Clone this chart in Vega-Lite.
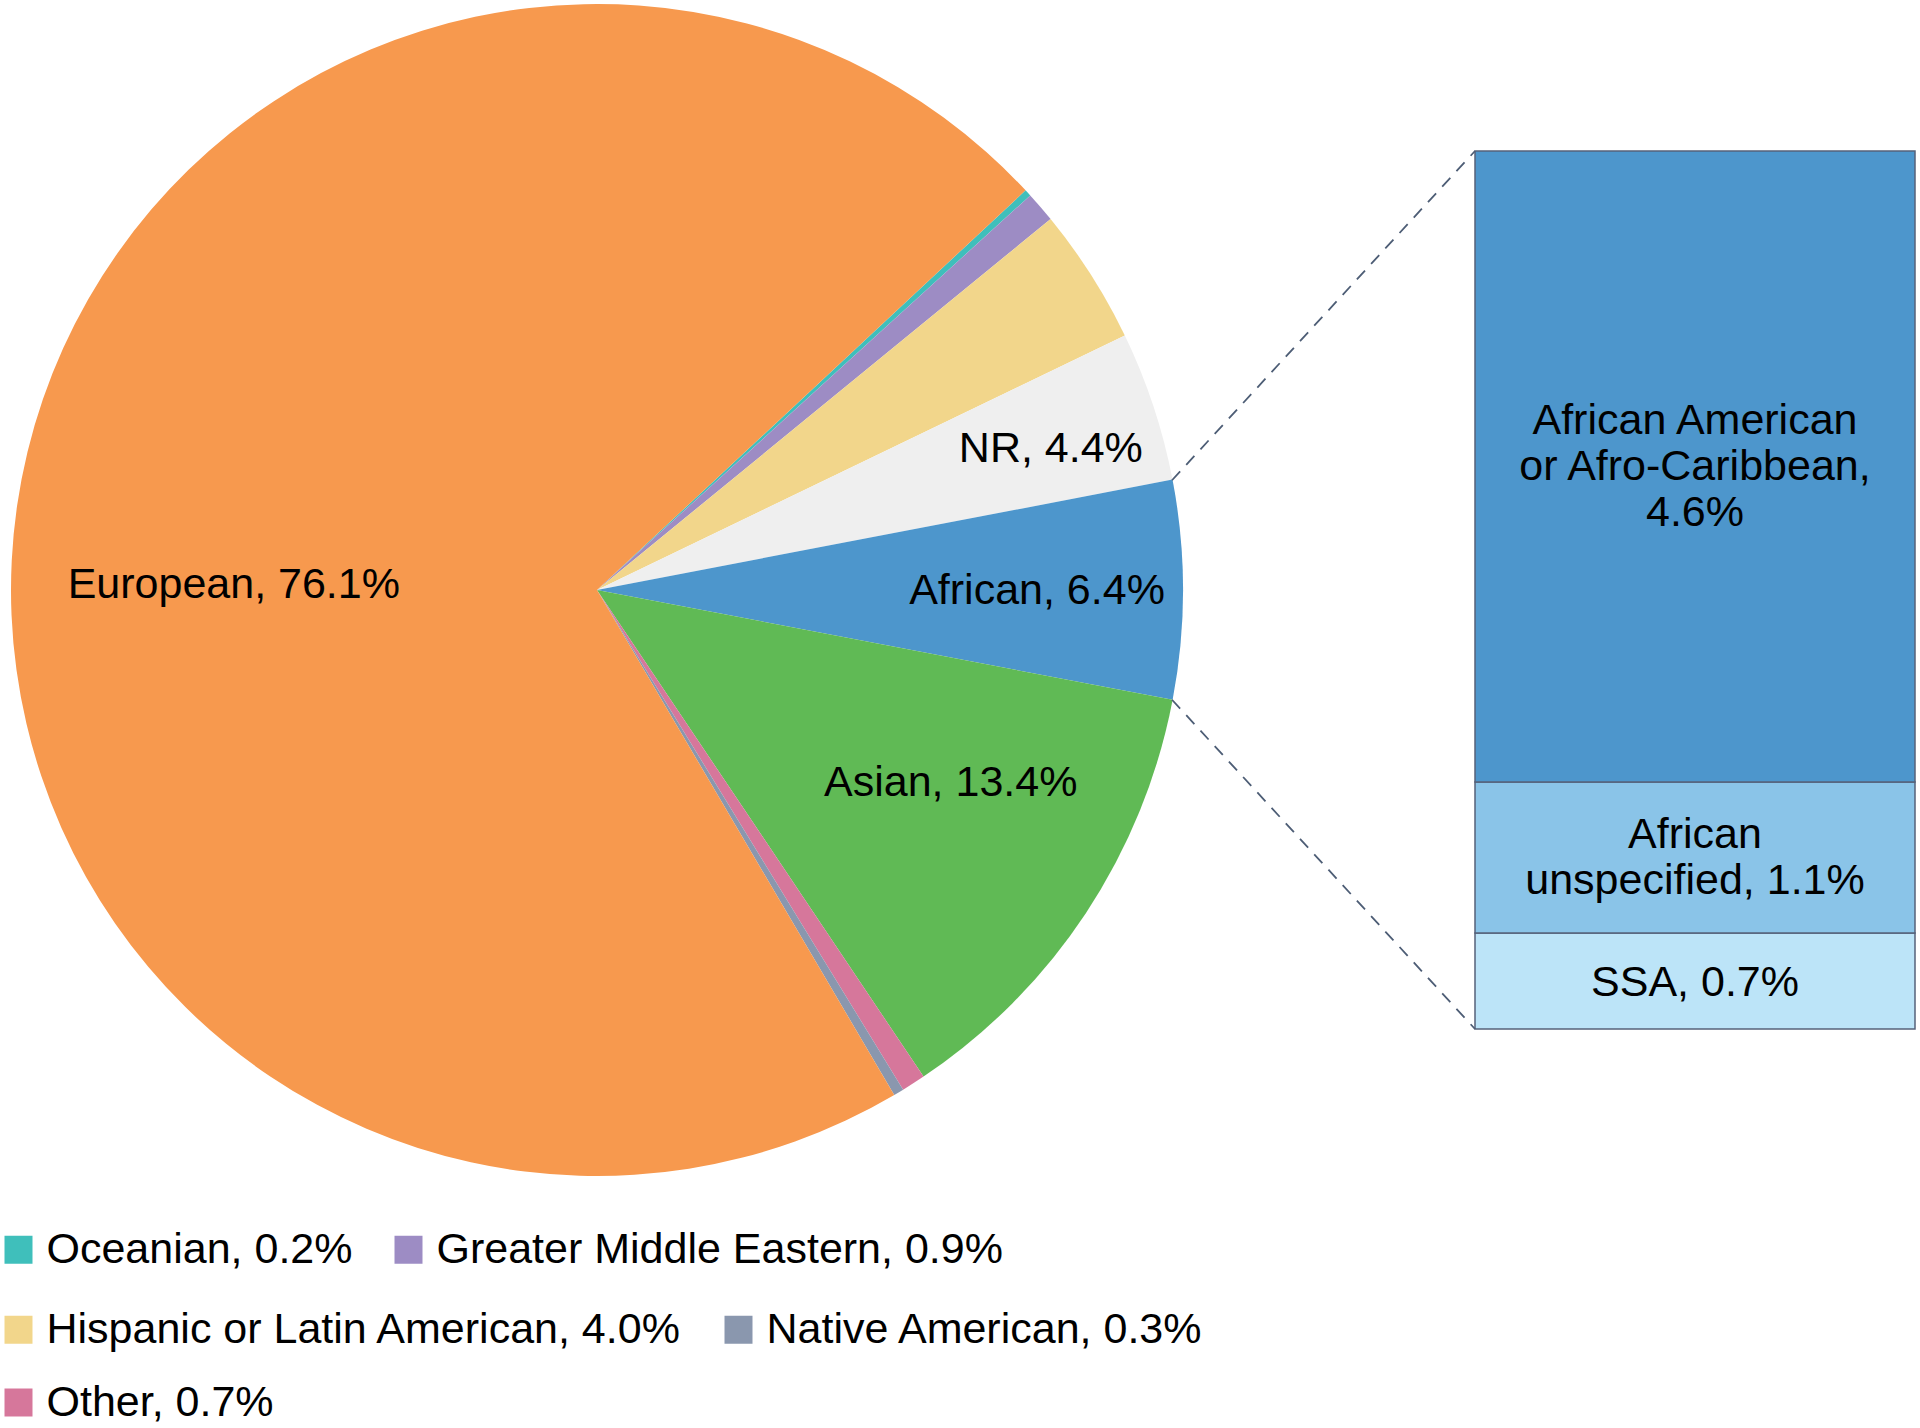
{
  "$schema": "https://vega.github.io/schema/vega-lite/v6.json",
  "padding": {"left": 5, "top": 2, "right": 5, "bottom": 0},
  "background": "white",
  "config": {"view": {"stroke": null}, "font": "Liberation Sans"},
  "bounds": "flush",
  "center": true,
  "spacing": 286,
  "resolve": {"scale": {"color": "independent"}, "legend": {"color": "independent"}},
  "hconcat": [
    {
      "width": 1184,
      "height": 1176,
      "data": {"values": [
        {"ord": 1, "group": "Oceanian", "label": "Oceanian, 0.2%", "pct": 0.2},
        {"ord": 2, "group": "Greater Middle Eastern", "label": "Greater Middle Eastern, 0.9%", "pct": 0.9},
        {"ord": 3, "group": "Hispanic or Latin American", "label": "Hispanic or Latin American, 4.0%", "pct": 4.0},
        {"ord": 4, "group": "NR", "label": "NR, 4.4%", "pct": 4.4},
        {"ord": 5, "group": "African", "label": "African, 6.4%", "pct": 6.4},
        {"ord": 6, "group": "Asian", "label": "Asian, 13.4%", "pct": 13.4},
        {"ord": 7, "group": "Other", "label": "Other, 0.7%", "pct": 0.7},
        {"ord": 8, "group": "Native American", "label": "Native American, 0.3%", "pct": 0.3},
        {"ord": 9, "group": "European", "label": "European, 76.1%", "pct": 76.1}
      ]},
      "resolve": {"scale": {"color": "independent"}, "legend": {"color": "independent"}},
      "layer": [
        {
          "mark": {"type": "arc", "outerRadius": 586},
          "encoding": {
            "theta": {"field": "pct", "type": "quantitative", "stack": true, "scale": {"range": [0.8203, 7.1035]}},
            "order": {"field": "ord", "type": "quantitative"},
            "color": {
              "field": "label", "type": "nominal",
              "scale": {
                "domain": ["Oceanian, 0.2%", "Greater Middle Eastern, 0.9%", "Hispanic or Latin American, 4.0%", "NR, 4.4%", "African, 6.4%", "Asian, 13.4%", "Other, 0.7%", "Native American, 0.3%", "European, 76.1%"],
                "range": ["#3FBFBB", "#9D8CC4", "#F2D68B", "#EFEFEF", "#4D96CC", "#60BA55", "#D6779B", "#8A97AE", "#F7994E"]
              },
              "legend": {
                "values": ["Oceanian, 0.2%", "Greater Middle Eastern, 0.9%"],
                "orient": "none", "legendX": 0, "legendY": 1226,
                "direction": "horizontal", "columnPadding": 41,
                "symbolType": "square", "symbolSize": 784, "symbolStrokeWidth": 0, "symbolOpacity": 1, "symbolOffset": -8,
                "labelFontSize": 43, "labelFont": "Liberation Sans", "labelColor": "black",
                "labelOffset": 6.5, "labelLimit": 1200, "title": null, "padding": 0
              }
            }
          }
        },
        {
          "mark": {"type": "arc", "outerRadius": 586, "opacity": 0},
          "encoding": {
            "theta": {"field": "pct", "type": "quantitative", "stack": true},
            "order": {"field": "ord", "type": "quantitative"},
            "color": {
              "field": "label", "type": "nominal",
              "scale": {
                "domain": ["Oceanian, 0.2%", "Greater Middle Eastern, 0.9%", "Hispanic or Latin American, 4.0%", "NR, 4.4%", "African, 6.4%", "Asian, 13.4%", "Other, 0.7%", "Native American, 0.3%", "European, 76.1%"],
                "range": ["#3FBFBB", "#9D8CC4", "#F2D68B", "#EFEFEF", "#4D96CC", "#60BA55", "#D6779B", "#8A97AE", "#F7994E"]
              },
              "legend": {
                "values": ["Hispanic or Latin American, 4.0%", "Native American, 0.3%"],
                "orient": "none", "legendX": 0, "legendY": 1306,
                "direction": "horizontal", "columnPadding": 41,
                "symbolType": "square", "symbolSize": 784, "symbolStrokeWidth": 0, "symbolOpacity": 1, "symbolOffset": -8,
                "labelFontSize": 43, "labelFont": "Liberation Sans", "labelColor": "black",
                "labelOffset": 6.5, "labelLimit": 1200, "title": null, "padding": 0
              }
            }
          }
        },
        {
          "mark": {"type": "arc", "outerRadius": 586, "opacity": 0},
          "encoding": {
            "theta": {"field": "pct", "type": "quantitative", "stack": true},
            "order": {"field": "ord", "type": "quantitative"},
            "color": {
              "field": "label", "type": "nominal",
              "scale": {
                "domain": ["Oceanian, 0.2%", "Greater Middle Eastern, 0.9%", "Hispanic or Latin American, 4.0%", "NR, 4.4%", "African, 6.4%", "Asian, 13.4%", "Other, 0.7%", "Native American, 0.3%", "European, 76.1%"],
                "range": ["#3FBFBB", "#9D8CC4", "#F2D68B", "#EFEFEF", "#4D96CC", "#60BA55", "#D6779B", "#8A97AE", "#F7994E"]
              },
              "legend": {
                "values": ["Other, 0.7%"],
                "orient": "none", "legendX": 0, "legendY": 1379,
                "direction": "horizontal", "columnPadding": 41,
                "symbolType": "square", "symbolSize": 784, "symbolStrokeWidth": 0, "symbolOpacity": 1, "symbolOffset": -8,
                "labelFontSize": 43, "labelFont": "Liberation Sans", "labelColor": "black",
                "labelOffset": 6.5, "labelLimit": 1200, "title": null, "padding": 0
              }
            }
          }
        },
        {
          "mark": {"type": "text", "radius": 367, "dy": 48, "fontSize": 43, "font": "Liberation Sans", "color": "black"},
          "encoding": {
            "theta": {"field": "pct", "type": "quantitative", "stack": true},
            "order": {"field": "ord", "type": "quantitative"},
            "detail": {"field": "group", "type": "nominal"},
            "text": {"condition": {"test": "datum.group === 'European'", "field": "label", "type": "nominal"}, "value": ""}
          }
        },
        {
          "mark": {"type": "text", "radius": 478, "dy": 9, "fontSize": 43, "font": "Liberation Sans", "color": "black"},
          "encoding": {
            "theta": {"field": "pct", "type": "quantitative", "stack": true},
            "order": {"field": "ord", "type": "quantitative"},
            "detail": {"field": "group", "type": "nominal"},
            "text": {"condition": {"test": "datum.group === 'NR'", "field": "label", "type": "nominal"}, "value": ""}
          }
        },
        {
          "mark": {"type": "text", "radius": 440, "dy": 1.5, "fontSize": 43, "font": "Liberation Sans", "color": "black"},
          "encoding": {
            "theta": {"field": "pct", "type": "quantitative", "stack": true},
            "order": {"field": "ord", "type": "quantitative"},
            "detail": {"field": "group", "type": "nominal"},
            "text": {"condition": {"test": "datum.group === 'African'", "field": "label", "type": "nominal"}, "value": ""}
          }
        },
        {
          "mark": {"type": "text", "radius": 424, "dy": -41, "fontSize": 43, "font": "Liberation Sans", "color": "black"},
          "encoding": {
            "theta": {"field": "pct", "type": "quantitative", "stack": true},
            "order": {"field": "ord", "type": "quantitative"},
            "detail": {"field": "group", "type": "nominal"},
            "text": {"condition": {"test": "datum.group === 'Asian'", "field": "label", "type": "nominal"}, "value": ""}
          }
        }
      ]
    },
    {
      "width": 440,
      "height": 878,
      "data": {"values": [
        {"ord": 1, "parent": "African", "sub": "SSA", "label": "SSA, 0.7%", "pct": 0.7},
        {"ord": 2, "parent": "African", "sub": "African unspecified", "label": "African\nunspecified, 1.1%", "pct": 1.1},
        {"ord": 3, "parent": "African", "sub": "African American or Afro-Caribbean", "label": "African American\nor Afro-Caribbean,\n4.6%", "pct": 4.6}
      ]},
      "resolve": {"scale": {"x": "independent"}},
      "layer": [
        {
          "mark": {"type": "bar", "stroke": "#56627A", "strokeWidth": 1.5},
          "encoding": {
            "x": {"field": "parent", "type": "nominal", "scale": {"paddingInner": 0, "paddingOuter": 0}, "axis": null},
            "y": {"field": "pct", "type": "quantitative", "stack": "zero", "scale": {"domain": [0, 6.4], "nice": false}, "axis": null},
            "order": {"field": "ord", "type": "quantitative"},
            "color": {
              "field": "sub", "type": "nominal",
              "scale": {"domain": ["SSA", "African unspecified", "African American or Afro-Caribbean"], "range": ["#BCE4F8", "#8AC4E8", "#4D96CC"]},
              "legend": null
            }
          }
        },
        {
          "mark": {"type": "text", "dy": -46, "fontSize": 43, "font": "Liberation Sans", "color": "black", "lineBreak": "\n", "lineHeight": 46, "align": "center", "baseline": "middle"},
          "encoding": {
            "x": {"field": "parent", "type": "nominal", "axis": null},
            "y": {"field": "pct", "type": "quantitative", "stack": "zero", "bandPosition": 0.5},
            "order": {"field": "ord", "type": "quantitative"},
            "detail": {"field": "sub", "type": "nominal"},
            "text": {"condition": {"test": "datum.ord === 3", "field": "label", "type": "nominal"}, "value": ""}
          }
        },
        {
          "mark": {"type": "text", "dy": -23, "fontSize": 43, "font": "Liberation Sans", "color": "black", "lineBreak": "\n", "lineHeight": 46, "align": "center", "baseline": "middle"},
          "encoding": {
            "x": {"field": "parent", "type": "nominal", "axis": null},
            "y": {"field": "pct", "type": "quantitative", "stack": "zero", "bandPosition": 0.5},
            "order": {"field": "ord", "type": "quantitative"},
            "detail": {"field": "sub", "type": "nominal"},
            "text": {"condition": {"test": "datum.ord === 2", "field": "label", "type": "nominal"}, "value": ""}
          }
        },
        {
          "mark": {"type": "text", "dy": 2, "fontSize": 43, "font": "Liberation Sans", "color": "black", "lineBreak": "\n", "lineHeight": 46, "align": "center", "baseline": "middle"},
          "encoding": {
            "x": {"field": "parent", "type": "nominal", "axis": null},
            "y": {"field": "pct", "type": "quantitative", "stack": "zero", "bandPosition": 0.5},
            "order": {"field": "ord", "type": "quantitative"},
            "detail": {"field": "sub", "type": "nominal"},
            "text": {"condition": {"test": "datum.ord === 1", "field": "label", "type": "nominal"}, "value": ""}
          }
        },
        {
          "data": {"values": [{}]},
          "mark": {"type": "rule", "strokeDash": [12, 9], "color": "#4D5D75", "strokeWidth": 1.8},
          "encoding": {
            "x": {"datum": -0.6886, "type": "quantitative", "scale": {"domain": [0, 1]}, "axis": null},
            "x2": {"datum": 0},
            "y": {"datum": 4.0, "type": "quantitative"},
            "y2": {"datum": 6.4}
          }
        },
        {
          "data": {"values": [{}]},
          "mark": {"type": "rule", "strokeDash": [12, 9], "color": "#4D5D75", "strokeWidth": 1.8},
          "encoding": {
            "x": {"datum": -0.6886, "type": "quantitative", "scale": {"domain": [0, 1]}, "axis": null},
            "x2": {"datum": 0},
            "y": {"datum": 2.4, "type": "quantitative"},
            "y2": {"datum": 0}
          }
        }
      ]
    }
  ]
}
